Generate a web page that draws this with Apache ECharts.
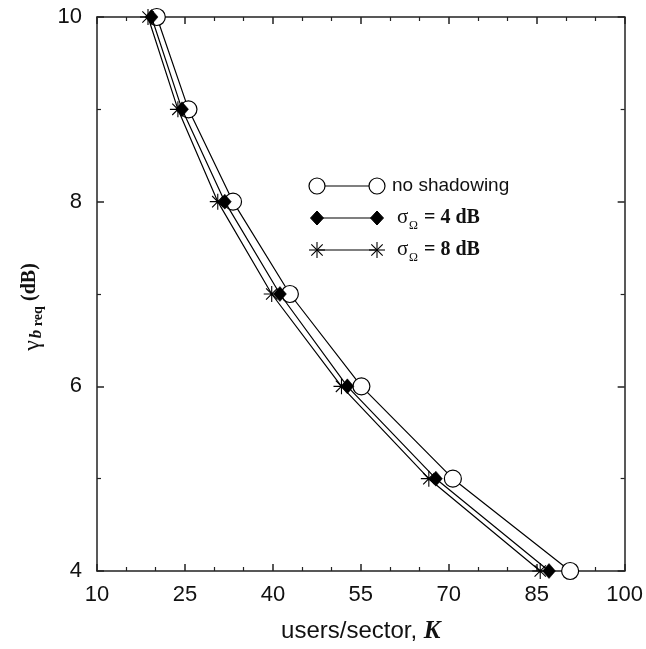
<!DOCTYPE html>
<html>
<head>
<meta charset="utf-8">
<script src="https://cdn.jsdelivr.net/npm/echarts@6/dist/echarts.min.js"></script>
<style>
html,body{margin:0;padding:0;background:#fff;}
#c{width:646px;height:649px;}
</style>
</head>
<body>
<div id="c"></div>
<script>
// ---- data ----
const gammaReq = [10, 9, 8, 7, 6, 5, 4];
const kNoShadow = [20.2, 25.6, 33.2, 42.9, 55.1, 70.7, 90.7];
const k4dB = [19.3, 24.5, 31.8, 41.2, 52.7, 67.8, 87.1];
const k8dB = [18.7, 23.8, 30.6, 39.8, 51.7, 66.6, 85.6];
const seriesNames = ['no shadowing', 'σΩ = 4 dB', 'σΩ = 8 dB'];

const pairs = (xs, ys) => xs.map((x, i) => [x, ys[i]]);
const STAR = 'path://M0,-10L0,10M-10,0L10,0M-7.07,-7.07L7.07,7.07M-7.07,7.07L7.07,-7.07';

const chart = echarts.init(document.getElementById('c'), null, {renderer: 'canvas'});

const axisLineStyle = {color: '#222', width: 1.5};
const sans = 'Liberation Sans, Arial, sans-serif';
const serif = 'Liberation Serif, Times New Roman, serif';

const xBase = {
  type: 'value', min: 10, max: 100, interval: 15,
  axisLine: {show: true, onZero: false, lineStyle: axisLineStyle},
  axisTick: {show: true, inside: true, length: 7, lineStyle: {color: '#222', width: 1.5}},
  minorTick: {show: true, splitNumber: 3, length: 4, lineStyle: {color: '#222', width: 1.2}},
  splitLine: {show: false}, minorSplitLine: {show: false}
};
const yBase = {
  type: 'value', min: 4, max: 10, interval: 2,
  axisLine: {show: true, onZero: false, lineStyle: axisLineStyle},
  axisTick: {show: true, inside: true, length: 7, lineStyle: {color: '#222', width: 1.5}},
  minorTick: {show: true, splitNumber: 2, length: 4, lineStyle: {color: '#222', width: 1.2}},
  splitLine: {show: false}, minorSplitLine: {show: false}
};

const lx1 = 317, lx2 = 377;
const rows = [186, 218, 250];
const graphics = [];
rows.forEach(y => graphics.push({type: 'line', shape: {x1: lx1, y1: y, x2: lx2, y2: y}, style: {stroke: '#000', lineWidth: 1.2}, z: 10}));
[lx1, lx2].forEach(x => graphics.push({type: 'circle', shape: {cx: x, cy: rows[0], r: 8}, style: {fill: '#fff', stroke: '#000', lineWidth: 1.2}, z: 11}));
[lx1, lx2].forEach(x => graphics.push({type: 'polygon', shape: {points: [[x, rows[1] - 7], [x + 6.5, rows[1]], [x, rows[1] + 7], [x - 6.5, rows[1]]]}, style: {fill: '#000', stroke: '#000'}, z: 11}));
[lx1, lx2].forEach(x => {
  const y = rows[2], r = 8, d = 5.7;
  [[0, -r, 0, r], [-r, 0, r, 0], [-d, -d, d, d], [-d, d, d, -d]].forEach(s =>
    graphics.push({type: 'line', shape: {x1: x + s[0], y1: y + s[1], x2: x + s[2], y2: y + s[3]}, style: {stroke: '#000', lineWidth: 1.1}, z: 11}));
});
graphics.push({type: 'text', x: 392, y: rows[0], style: {text: seriesNames[0], font: '19px ' + sans, fill: '#111', textVerticalAlign: 'middle'}, z: 12});
[1, 2].forEach(i => {
  const y = rows[i];
  graphics.push({type: 'text', x: 397, y: y - 1, style: {text: 'σ', font: '21px ' + serif, fill: '#111', textVerticalAlign: 'middle'}, z: 12});
  graphics.push({type: 'text', x: 409, y: y + 8, style: {text: 'Ω', font: '12px ' + serif, fill: '#111', textVerticalAlign: 'middle'}, z: 12});
  graphics.push({type: 'text', x: 424, y: y, style: {text: i === 1 ? '= 4 dB' : '= 8 dB', font: 'bold 20px ' + serif, fill: '#111', textVerticalAlign: 'middle'}, z: 12});
});

const option = {
  backgroundColor: '#fff',
  animation: false,
  grid: {left: 97, right: 21, top: 17, bottom: 77, containLabel: false},
  xAxis: [
    Object.assign({}, xBase, {
      position: 'bottom',
      axisLabel: {show: true, color: '#111', fontSize: 22, fontFamily: sans, margin: 13},
      name: '{a|users/sector, }{k|K}',
      nameLocation: 'middle', nameGap: 48,
      nameTextStyle: {rich: {a: {fontSize: 24, fontFamily: sans, color: '#111'}, k: {fontSize: 25, fontFamily: serif, fontStyle: 'italic', fontWeight: 'bold', color: '#111'}}}
    }),
    Object.assign({}, xBase, {position: 'top', axisLabel: {show: false}})
  ],
  yAxis: [
    Object.assign({}, yBase, {
      position: 'left',
      axisLabel: {show: true, color: '#111', fontSize: 22, fontFamily: sans, margin: 15},
      name: '{g|γ}{b|b}{r| req} {d|(dB)}',
      nameLocation: 'middle', nameGap: 52, nameRotate: 90,
      nameTextStyle: {rich: {
        g: {fontSize: 24, fontFamily: serif, color: '#111', verticalAlign: 'bottom'},
        b: {fontSize: 17, fontFamily: serif, fontStyle: 'italic', fontWeight: 'bold', color: '#111', verticalAlign: 'bottom', padding: [0, 0, 0, 2]},
        r: {fontSize: 14, fontFamily: serif, fontWeight: 'bold', color: '#111', verticalAlign: 'bottom'},
        d: {fontSize: 20, fontFamily: serif, fontWeight: 'bold', color: '#111', verticalAlign: 'bottom', padding: [0, 26, 5, 2]}
      }}
    }),
    Object.assign({}, yBase, {position: 'right', axisLabel: {show: false}})
  ],
  series: [
    {
      name: seriesNames[0], type: 'line', xAxisIndex: 0, yAxisIndex: 0,
      data: pairs(kNoShadow, gammaReq),
      symbol: 'circle', symbolSize: 17,
      lineStyle: {color: '#000', width: 1.2},
      itemStyle: {color: '#fff', borderColor: '#000', borderWidth: 1.2},
      z: 2
    },
    {
      name: seriesNames[1], type: 'line', xAxisIndex: 0, yAxisIndex: 0,
      data: pairs(k4dB, gammaReq),
      symbol: 'diamond', symbolSize: [13, 15],
      lineStyle: {color: '#000', width: 1.2},
      itemStyle: {color: '#000', borderColor: '#000', borderWidth: 0.5},
      z: 3
    },
    {
      name: seriesNames[2], type: 'line', xAxisIndex: 0, yAxisIndex: 0,
      data: pairs(k8dB, gammaReq),
      symbol: STAR, symbolSize: 16,
      lineStyle: {color: '#000', width: 1.2},
      itemStyle: {color: 'none', borderColor: '#000', borderWidth: 1.1},
      z: 4
    }
  ],
  graphic: graphics
};
chart.setOption(option);
</script>
</body>
</html>
